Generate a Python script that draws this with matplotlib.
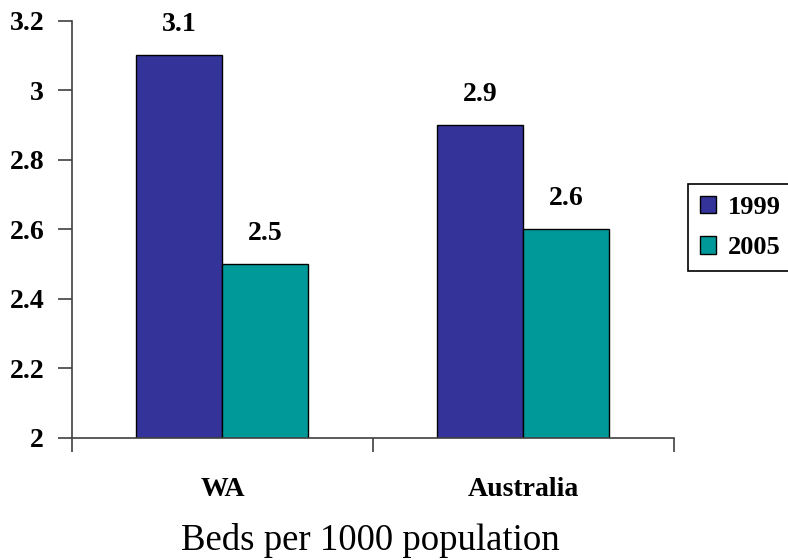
import matplotlib.pyplot as plt
import numpy as np

# hospital beds per 1000 population
regions = ['WA', 'Australia']
years = ['1999', '2005']
beds_1999 = [3.1, 2.9]
beds_2005 = [2.5, 2.6]
colors = ['#333399', '#009999']

plt.rcParams['font.family'] = ['Liberation Serif', 'DejaVu Serif']

fig = plt.figure(figsize=(7.88, 5.6), dpi=100)
ax = fig.add_axes([0.0914, 0.2184, 0.7636, 0.7446])

x = np.arange(len(regions))
w = 1 / 3.5  # gap width 150%

series = [beds_1999, beds_2005]
for i, vals in enumerate(series):
    pos = x - w / 2 + i * w
    ax.bar(pos, vals, width=w, bottom=0, color=colors[i],
           edgecolor='black', linewidth=1, label=years[i], zorder=2)
    for xp, v in zip(pos, vals):
        ax.annotate('%g' % v, (xp, v), xytext=(0, 13), textcoords='offset points',
                    ha='center', va='bottom', fontsize=20, fontweight='bold')

ax.set_ylim(2, 3.2)
ax.set_xlim(-0.5, len(regions) - 0.5)
ax.set_yticks(np.arange(2, 3.21, 0.2))
ax.set_yticklabels(['2', '2.2', '2.4', '2.6', '2.8', '3', '3.2'])

ax.set_xticks(x)
ax.set_xticklabels(regions)
ax.set_xticks(np.arange(-0.5, len(regions), 1), minor=True)
ax.tick_params(axis='x', which='major', length=0, pad=28, labelsize=20)
ax.tick_params(axis='x', which='minor', length=10, direction='out', color='#404040', width=1.2)
ax.tick_params(axis='y', length=10, direction='out', pad=10, labelsize=20,
               color='#404040', width=1.2)
for lab in ax.get_xticklabels() + ax.get_yticklabels():
    lab.set_fontweight('bold')

for s in ['top', 'right']:
    ax.spines[s].set_visible(False)
for s in ['left', 'bottom']:
    ax.spines[s].set_color('#404040')
    ax.spines[s].set_linewidth(1.2)

leg = fig.legend(loc='upper left', bbox_to_anchor=(0.873, 0.671), borderaxespad=0,
                 fancybox=False, edgecolor='black', framealpha=1,
                 handlelength=0.63, handleheight=0.63, handletextpad=0.45,
                 borderpad=0.45, labelspacing=0.65,
                 prop={'size': 19, 'weight': 'bold'})
leg.get_frame().set_linewidth(1.2)

fig.text(0.47, 0.018, 'Beds per 1000 population', ha='center', va='baseline', fontsize=26.5)

fig.savefig('out.png', dpi=100)
